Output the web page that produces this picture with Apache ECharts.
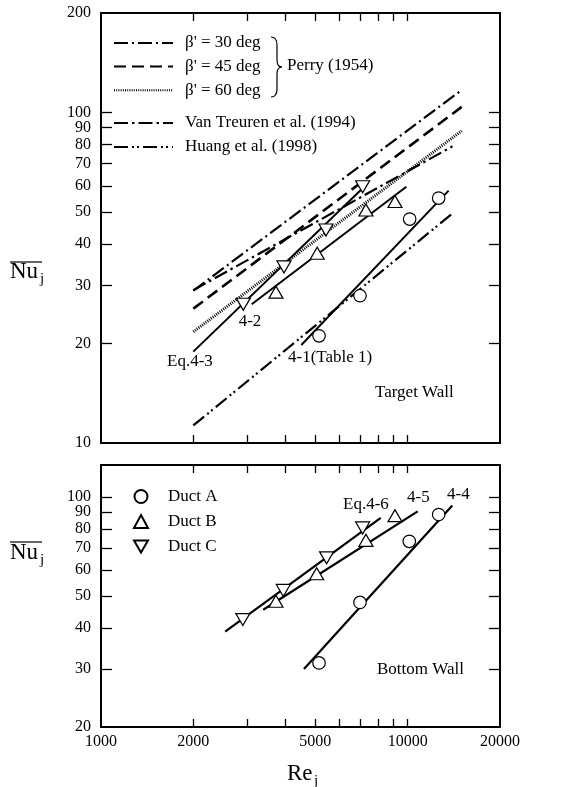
<!DOCTYPE html>
<html>
<head>
<meta charset="utf-8">
<script src="https://cdn.jsdelivr.net/npm/echarts@6/dist/echarts.min.js"></script>
<style>
html,body{margin:0;padding:0;background:#fff;}
#c{width:568px;height:787px;}
</style>
</head>
<body>
<div id="c"></div>
<script>
// ---------- data ----------
const xTicks = [2000, 3000, 4000, 5000, 6000, 7000, 8000, 9000, 10000];
const xLabels = [1000, 2000, 5000, 10000, 20000];
const yTopTicks = [20, 30, 40, 50, 60, 70, 80, 90, 100];
const yTopLabels = [10, 20, 30, 40, 50, 60, 70, 80, 90, 100, 200];
const yBotTicks = [30, 40, 50, 60, 70, 80, 90, 100];
// listed so that the closely spaced 90/100 labels are not at the ends of the list
const yBotLabels = [20, 60, 100, 30, 70, 40, 80, 50, 90];

// Target wall (top panel)
const perry30 = [[2000, 28.9], [15000, 117]];
const perry45 = [[2000, 25.5], [15000, 104]];
const perry60 = [[2000, 21.7], [15000, 88]];
const vanTreuren = [[2000, 29.0], [14000, 79]];
const huang = [[2000, 11.3], [14000, 49.5]];
const eq43 = [[2000, 18.9], [7400, 61]];
const eq42 = [[3100, 26.3], [9900, 59.6]];
const eq41 = [[4500, 19.8], [13600, 58]];
const targetA = [[5140, 21.1], [6990, 27.9], [10150, 47.6], [12620, 55.1]];
const targetB = [[3720, 28.6], [5070, 37.5], [7310, 50.7], [9090, 53.8]];
const targetC = [[2910, 26.3], [3950, 34.1], [5415, 44.1], [7130, 59.6]];

// Bottom wall (bottom panel)
const eq46 = [[2540, 39.0], [8170, 86.4]];
const eq45 = [[3380, 45.4], [10780, 90.4]];
const eq44 = [[4590, 30.0], [13980, 94.1]];
const bottomA = [[5140, 31.3], [6990, 47.8], [10120, 73.3], [12620, 88.4]];
const bottomB = [[3720, 48.2], [5050, 58.4], [7310, 73.8], [9090, 87.7]];
const bottomC = [[2900, 42.4], [3930, 52.0], [5440, 65.3], [7130, 80.5]];

const names = {
  p30: "\u03b2' = 30 deg", p45: "\u03b2' = 45 deg", p60: "\u03b2' = 60 deg",
  vt: 'Van Treuren et al. (1994)', hu: 'Huang et al. (1998)',
  A: 'Duct A', B: 'Duct B', C: 'Duct C'
};

// ---------- chart ----------
const FF = 'Liberation Serif';
const chart = echarts.init(document.getElementById('c'), null, {renderer: 'canvas'});

function mkAxis(gridIndex, position, min, max, ticks, labels, tickLen, labelMargin) {
  return {
    type: 'log', logBase: 10, gridIndex, position, min, max,
    axisLine: {show: true, onZero: false, lineStyle: {color: '#000', width: 2}},
    axisTick: {show: true, inside: true, length: tickLen, customValues: ticks,
      lineStyle: {color: '#000', width: 1.3}},
    axisLabel: labels ? {show: true, customValues: labels, hideOverlap: false,
      showMinLabel: true, showMaxLabel: true,
      formatter: v => String(Math.round(v)), color: '#000', fontFamily: FF,
      fontSize: 16, margin: labelMargin} : {show: false},
    splitLine: {show: false}, minorTick: {show: false}, minorSplitLine: {show: false},
    axisPointer: {show: false}
  };
}

function lineSeries(name, data, xi, yi, dash, width) {
  return {
    type: 'line', name, data, xAxisIndex: xi, yAxisIndex: yi,
    symbol: 'none', showSymbol: false, silent: true, z: 2,
    itemStyle: {color: '#000'},
    lineStyle: {color: '#000', width: width, type: dash, cap: 'butt'}
  };
}
const DOWN_TRI = 'path://M0,0 L14,0 L7,12 Z';
function scatterSeries(name, data, xi, yi, kind) {
  const s = {
    type: 'scatter', name, data, xAxisIndex: xi, yAxisIndex: yi, silent: true, z: 5,
    itemStyle: {color: '#fff', borderColor: '#000', borderWidth: 1.2, opacity: 1}
  };
  if (kind === 'A') { s.symbol = 'circle'; s.symbolSize = 12.5; }
  if (kind === 'B') { s.symbol = 'triangle'; s.symbolSize = [14, 12]; }
  if (kind === 'C') { s.symbol = DOWN_TRI; s.symbolSize = [14, 12]; }
  return s;
}

const txt = (x, y, text, size, align) => ({
  type: 'text', x, y, silent: true,
  style: {text, fill: '#000', font: size + 'px "' + FF + '"',
    textAlign: align || 'left', textVerticalAlign: 'middle'}
});
const seg = (x1, y1, x2, y2, w) => ({type: 'line', silent: true,
  shape: {x1, y1, x2, y2}, style: {stroke: '#000', lineWidth: w || 1.2}});
const qc = (x1, y1, cx, cy, x2, y2) => ({type: 'bezierCurve', silent: true,
  shape: {x1, y1, x2, y2, cpx1: cx, cpy1: cy}, style: {stroke: '#000', fill: null, lineWidth: 1.2}});

const lineLegendText = {fontFamily: FF, fontSize: 17, color: '#000', lineHeight: 16, padding: [0, 0, 0, 7]};

const option = {
  animation: false,
  backgroundColor: '#fff',
  textStyle: {fontFamily: FF, color: '#000'},
  grid: [
    {left: 101, top: 13, width: 399, height: 430, containLabel: false, show: false},
    {left: 101, top: 465, width: 399, height: 262, containLabel: false, show: false}
  ],
  xAxis: [
    mkAxis(0, 'bottom', 1000, 20000, xTicks, null, 8),
    mkAxis(0, 'top', 1000, 20000, xTicks, null, 8),
    mkAxis(1, 'bottom', 1000, 20000, xTicks, xLabels, 8, 7),
    mkAxis(1, 'top', 1000, 20000, xTicks, null, 8)
  ],
  yAxis: [
    mkAxis(0, 'left', 10, 200, yTopTicks, yTopLabels, 11, 10),
    mkAxis(0, 'right', 10, 200, yTopTicks, null, 11),
    mkAxis(1, 'left', 20, 125, yBotTicks, yBotLabels, 11, 10),
    mkAxis(1, 'right', 20, 125, yBotTicks, null, 11)
  ],
  legend: [
    {data: [names.p30, names.p45, names.p60], orient: 'vertical', left: 113, top: 34.5, padding: 0,
      itemWidth: 59, itemHeight: 14, itemGap: 6.6, selectedMode: false,
      itemStyle: {opacity: 0}, textStyle: lineLegendText},
    {data: [names.vt, names.hu], orient: 'vertical', left: 113, top: 114.5, padding: 0,
      itemWidth: 59, itemHeight: 14, itemGap: 7, selectedMode: false,
      itemStyle: {opacity: 0}, textStyle: lineLegendText},
    {data: [names.A, names.B, names.C], orient: 'vertical', left: 133, top: 488, padding: 0,
      itemWidth: 14, itemHeight: 13, itemGap: 8, selectedMode: false,
      textStyle: {fontFamily: FF, fontSize: 17, color: '#000', lineHeight: 16, padding: [0, 0, 0, 15]}}
  ],
  series: [
    lineSeries(names.p30, perry30, 0, 0, [14, 4, 2, 4], 2.2),
    lineSeries(names.p45, perry45, 0, 0, [12, 6], 2.6),
    lineSeries(names.p60, perry60, 0, 0, [1, 1.2], 3),
    lineSeries(names.vt, vanTreuren, 0, 0, [14, 4, 2.5, 4], 2.2),
    lineSeries(names.hu, huang, 0, 0, [14, 4, 2, 3, 2, 4], 2.2),
    lineSeries('Eq.4-3', eq43, 0, 0, 'solid', 2),
    lineSeries('4-2', eq42, 0, 0, 'solid', 2),
    lineSeries('4-1', eq41, 0, 0, 'solid', 2),
    lineSeries('Eq.4-6', eq46, 2, 2, 'solid', 2.2),
    lineSeries('4-5', eq45, 2, 2, 'solid', 2.2),
    lineSeries('4-4', eq44, 2, 2, 'solid', 2.2),
    scatterSeries(names.A, targetA, 0, 0, 'A'),
    scatterSeries(names.B, targetB, 0, 0, 'B'),
    scatterSeries(names.C, targetC, 0, 0, 'C'),
    scatterSeries(names.A, bottomA, 2, 2, 'A'),
    scatterSeries(names.B, bottomB, 2, 2, 'B'),
    scatterSeries(names.C, bottomC, 2, 2, 'C')
  ],
  graphic: [
    // brace + Perry
    qc(271, 37, 277, 37, 277, 45),
    seg(277, 45, 277, 60),
    qc(277, 60, 277, 67, 282, 67),
    qc(282, 67, 277, 67, 277, 74),
    seg(277, 74, 277, 89),
    qc(277, 89, 277, 97, 271, 97),
    txt(287, 66, 'Perry (1954)', 17),
    // line annotations
    txt(167, 362, 'Eq.4-3', 17),
    txt(250, 322, '4-2', 17, 'center'),
    txt(288, 358, '4-1(Table 1)', 17),
    txt(375, 393, 'Target Wall', 17),
    txt(343, 505, 'Eq.4-6', 17),
    txt(407, 498, '4-5', 17),
    txt(447, 495, '4-4', 17),
    txt(377, 670, 'Bottom Wall', 17),
    // axis titles
    txt(10, 272, 'Nu', 23),
    txt(40, 279, 'j', 15),
    seg(10, 262, 42, 262),
    txt(10, 553, 'Nu', 23),
    txt(40, 560, 'j', 15),
    seg(10, 542, 42, 542),
    txt(287, 774, 'Re', 23),
    txt(314, 781, 'j', 15)
  ]
};
chart.setOption(option);
</script>
</body>
</html>
